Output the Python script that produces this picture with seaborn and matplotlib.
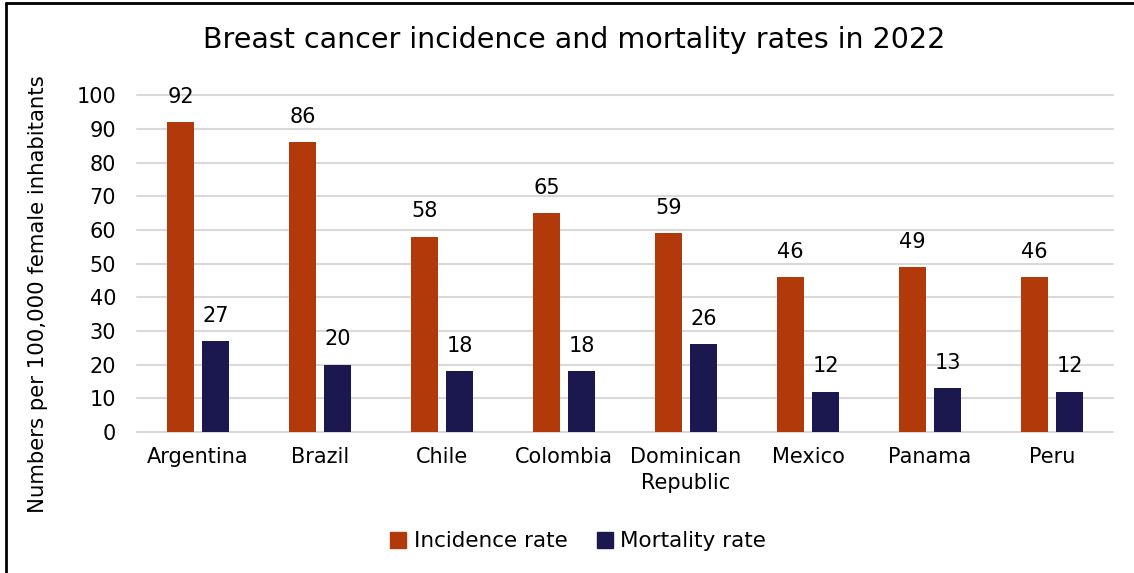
import matplotlib
matplotlib.use("Agg")
import matplotlib.pyplot as plt
import seaborn as sns
import pandas as pd
from matplotlib.lines import Line2D

countries = ["Argentina", "Brazil", "Chile", "Colombia", "Dominican\nRepublic",
             "Mexico", "Panama", "Peru"]
incidence = [92, 86, 58, 65, 59, 46, 49, 46]
mortality = [27, 20, 18, 18, 26, 12, 13, 12]
series_names = ["Incidence rate", "Mortality rate"]
y_ticks = [0, 10, 20, 30, 40, 50, 60, 70, 80, 90, 100]

df = pd.DataFrame({
    "country": countries * 2,
    "rate": incidence + mortality,
    "series": [series_names[0]] * len(countries) + [series_names[1]] * len(countries),
})

sns.set_theme(style="white")
plt.rcParams["font.family"] = ["DejaVu Sans"]
plt.rcParams["text.color"] = "black"
plt.rcParams["axes.labelcolor"] = "black"

fig = plt.figure(figsize=(11.34, 5.73), dpi=100)
ax = fig.add_axes([0.1208, 0.246, 0.8607, 0.588])

palette = {series_names[0]: "#B23A0A", series_names[1]: "#1A184E"}
sns.barplot(data=df, x="country", y="rate", hue="series", palette=palette,
            width=0.574, gap=0.23, ax=ax, legend=False, saturation=1,
            linewidth=0)

for container in ax.containers:
    ax.bar_label(container, fmt="%.0f", padding=11, fontsize=15, color="black")

ax.set_ylim(0, 100)
ax.set_yticks(y_ticks)
ax.set_xlim(-0.5, len(countries) - 0.5)
ax.yaxis.grid(True, color="#D9D9D9", linewidth=1.5)
ax.set_axisbelow(True)
for gl in ax.get_ygridlines():
    gl.set_clip_on(False)
for s in ax.spines.values():
    s.set_visible(False)
ax.tick_params(axis="both", length=0, labelsize=15, colors="black")
ax.tick_params(axis="x", pad=11)
ax.tick_params(axis="y", pad=15)
for lbl in ax.get_xticklabels():
    lbl.set_linespacing(1.35)
ax.set_xlabel("")
ax.set_ylabel("Numbers per 100,000 female inhabitants", fontsize=15.3)
ax.yaxis.set_label_coords(-0.091, 0.41)

fig.suptitle("Breast cancer incidence and mortality rates in 2022",
             fontsize=20.5, x=0.506, y=0.955, color="black")

handles = [plt.Rectangle((0, 0), 1, 1, color=palette[n]) for n in series_names]
fig.legend(handles, series_names, loc="center", bbox_to_anchor=(0.51, 0.055),
           ncol=2, frameon=False, fontsize=15.5, handlelength=0.75, handleheight=0.75,
           handletextpad=0.35, columnspacing=1.35)

# outer frame: top and left edges
fig.add_artist(Line2D([0.0055, 1.0], [0.9945, 0.9945], transform=fig.transFigure,
                      color="black", linewidth=2))
fig.add_artist(Line2D([0.0055, 0.0055], [0.0, 0.9945], transform=fig.transFigure,
                      color="black", linewidth=2))

fig.savefig("out.png", dpi=100)
